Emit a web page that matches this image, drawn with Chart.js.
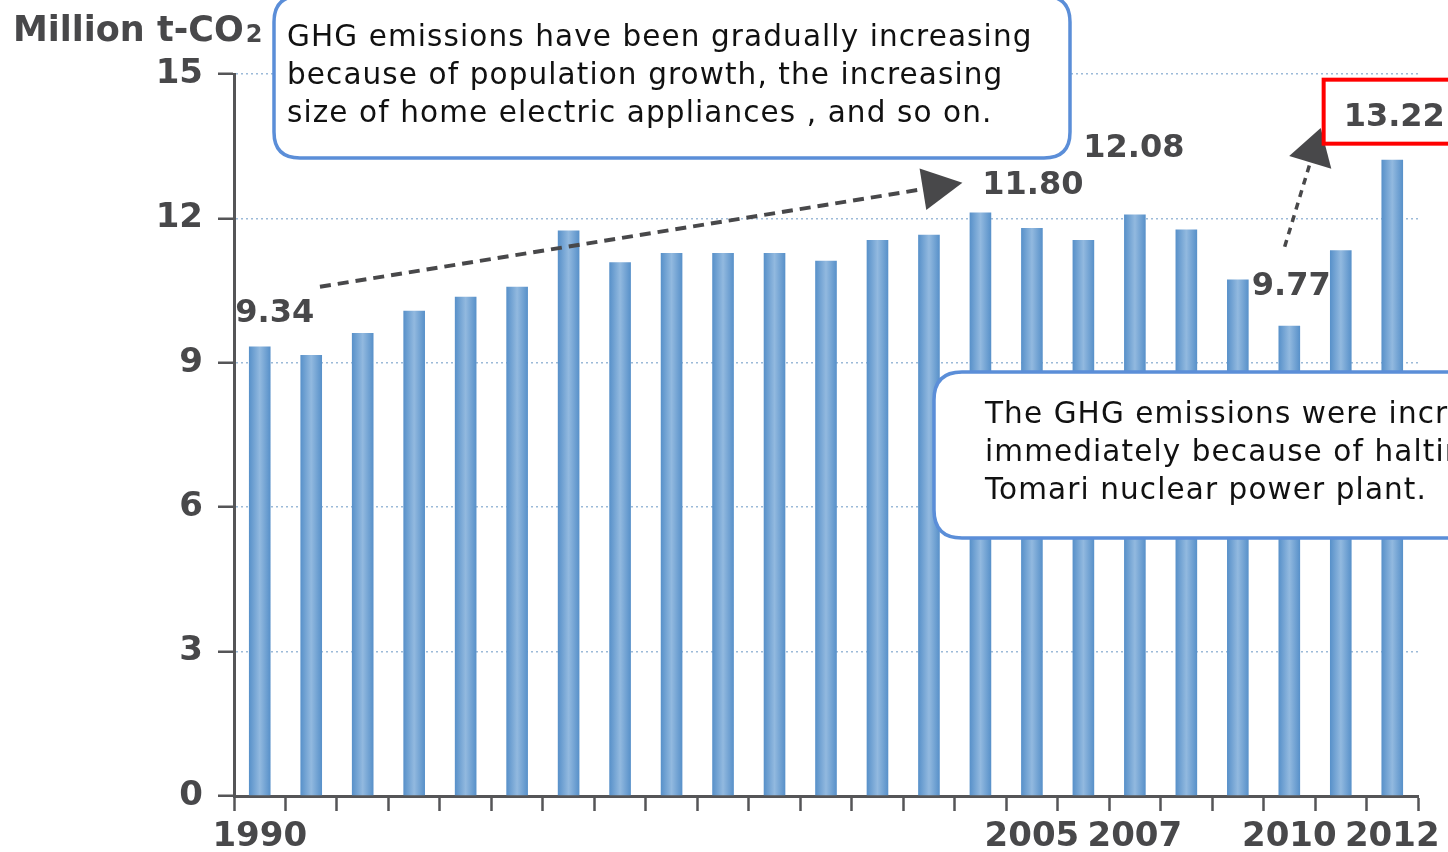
<!DOCTYPE html>
<html lang="en">
<head>
  <meta charset="UTF-8" />
  <title>GHG emissions</title>
  <style>
    html, body {
      margin: 0;
      padding: 0;
      background: #ffffff;
    }
    #wrap {
      width: 1448px;
      height: 852px;
    }
  </style>
  <script src="https://cdn.jsdelivr.net/npm/chart.js@4.4.1/dist/chart.umd.min.js"></script>
</head>
<body>
  <div id="wrap"><canvas id="ghgChart" width="1448" height="852"></canvas></div>

  <script>
    const years = ['1990', '1991', '1992', '1993', '1994', '1995', '1996', '1997',
      '1998', '1999', '2000', '2001', '2002', '2003', '2004', '2005', '2006',
      '2007', '2008', '2009', '2010', '2011', '2012'];
    const emissions = [9.34, 9.16, 9.62, 10.08, 10.37, 10.58, 11.75, 11.09,
      11.28, 11.28, 11.28, 11.12, 11.55, 11.66, 12.12, 11.80, 11.55,
      12.08, 11.77, 10.73, 9.77, 11.34, 13.22];
    const shownYears = ['1990', '2005', '2007', '2010', '2012'];
    const labelledYears = ['1990', '2005', '2007', '2010', '2012'];
    const highlightYear = '2012';
    const yTitle = 'Million t-CO';
    const noteTop = [
      'GHG emissions have been gradually increasing',
      'because of population growth, the increasing',
      'size of home electric appliances , and so on.'
    ];
    const noteBottom = [
      'The GHG emissions were increased',
      'immediately because of halting the',
      'Tomari nuclear power plant.'
    ];

    const INK = '#48484a';
    const AXIS = '#555557';
    const BOX = '#5b8ed8';

    // label nudges (px) relative to bar centre / bar top
    const labelNudge = {
      '1990': [15, 33], '2005': [1, 42], '2007': [-1, 66],
      '2010': [2, 39], '2012': [2, 42]
    };

    function barFill(c) {
      const chart = c.chart;
      const xs = chart.scales && chart.scales.x;
      if (c.type !== 'data' || !xs) return '#6b9fd3';
      const cx = xs.getPixelForValue(c.dataIndex);
      const hw = (xs.getPixelForValue(1) - xs.getPixelForValue(0)) * 0.42 / 2;
      if (!isFinite(cx) || !isFinite(hw) || hw <= 0) return '#6b9fd3';
      const g = chart.ctx.createLinearGradient(cx - hw, 0, cx + hw, 0);
      g.addColorStop(0, '#5790c9');
      g.addColorStop(0.5, '#92b9df');
      g.addColorStop(1, '#5790c9');
      return g;
    }

    function roundBox(ctx, x, y, w, h, r) {
      ctx.beginPath();
      ctx.moveTo(x + r, y);
      ctx.lineTo(x + w - r, y);
      ctx.quadraticCurveTo(x + w, y, x + w, y + r);
      ctx.lineTo(x + w, y + h - r);
      ctx.quadraticCurveTo(x + w, y + h, x + w - r, y + h);
      ctx.lineTo(x + r, y + h);
      ctx.quadraticCurveTo(x, y + h, x, y + h - r);
      ctx.lineTo(x, y + r);
      ctx.quadraticCurveTo(x, y, x + r, y);
      ctx.closePath();
      ctx.fillStyle = '#ffffff';
      ctx.fill();
      ctx.lineWidth = 3.5;
      ctx.strokeStyle = BOX;
      ctx.stroke();
    }

    function arrow(ctx, x1, y1, x2, y2, headLen, headHalf, width, dash) {
      const a = Math.atan2(y2 - y1, x2 - x1);
      const bx = x2 - headLen * Math.cos(a);
      const by = y2 - headLen * Math.sin(a);
      ctx.save();
      ctx.strokeStyle = '#48484a';
      ctx.lineWidth = width;
      ctx.setLineDash(dash);
      ctx.beginPath();
      ctx.moveTo(x1, y1);
      ctx.lineTo(bx, by);
      ctx.stroke();
      ctx.setLineDash([]);
      ctx.fillStyle = '#48484a';
      ctx.beginPath();
      ctx.moveTo(x2, y2);
      ctx.lineTo(bx + headHalf * Math.sin(a), by - headHalf * Math.cos(a));
      ctx.lineTo(bx - headHalf * Math.sin(a), by + headHalf * Math.cos(a));
      ctx.closePath();
      ctx.fill();
      ctx.restore();
    }

    const notesPlugin = {
      id: 'notes',
      afterDraw(chart) {
        const ctx = chart.ctx;
        const xs = chart.scales.x;
        const ys = chart.scales.y;
        const step = xs.getPixelForValue(1) - xs.getPixelForValue(0);
        const px = i => xs.getPixelForValue(0) + i * step;

        ctx.save();

        // axis title
        ctx.fillStyle = INK;
        ctx.textAlign = 'left';
        ctx.textBaseline = 'alphabetic';
        ctx.font = 'bold 35px "DejaVu Sans"';
        ctx.fillText(yTitle, 13, 41);
        const tw = ctx.measureText(yTitle).width;
        ctx.font = 'bold 24px "DejaVu Sans"';
        ctx.fillText('2', 13 + tw + 2, 42);

        // trend arrows (positions in category index / value units)
        arrow(ctx, px(1.17), ys.getPixelForValue(10.58), px(13.65), ys.getPixelForValue(12.74), 40, 21, 4, [11, 7]);
        arrow(ctx, px(19.91), ys.getPixelForValue(11.41), px(20.61), ys.getPixelForValue(13.88), 36, 22, 3.5, [7, 6]);

        // value labels
        ctx.font = 'bold 32px "DejaVu Sans"';
        ctx.textAlign = 'center';
        ctx.textBaseline = 'middle';
        labelledYears.forEach(yr => {
          const i = years.indexOf(yr);
          const v = emissions[i];
          const [dx, dy] = labelNudge[yr];
          const lx = xs.getPixelForValue(i) + dx;
          const ly = ys.getPixelForValue(v) - dy;
          ctx.fillStyle = INK;
          ctx.fillText(v.toFixed(2), lx, ly);
          if (yr === highlightYear) {
            const w = ctx.measureText(v.toFixed(2)).width;
            ctx.strokeStyle = '#ff0000';
            ctx.lineWidth = 4;
            ctx.strokeRect(lx - w / 2 - 20, ly - 38, w + 80, 64);
          }
        });

        // callouts
        ctx.textAlign = 'left';
        ctx.textBaseline = 'middle';
        ctx.font = '29.5px "DejaVu Sans"';
        ctx.letterSpacing = '1.1px';

        roundBox(ctx, 274, -4, 796, 162, 26);
        ctx.fillStyle = '#111111';
        noteTop.forEach((t, k) => ctx.fillText(t, 287, 38 + k * 38));

        roundBox(ctx, 934, 372, 560, 166, 28);
        ctx.fillStyle = '#111111';
        noteBottom.forEach((t, k) => ctx.fillText(t, 985, 415 + k * 38));

        ctx.restore();
      }
    };

    new Chart(document.getElementById('ghgChart'), {
      type: 'bar',
      data: {
        labels: years,
        datasets: [{
          data: emissions,
          backgroundColor: barFill,
          borderWidth: 0,
          barPercentage: 0.42,
          categoryPercentage: 1.0
        }]
      },
      options: {
        responsive: false,
        animation: false,
        devicePixelRatio: 1,
        layout: { padding: { top: 74, right: 30, left: 0, bottom: 0 } },
        plugins: {
          legend: { display: false },
          tooltip: { enabled: false }
        },
        scales: {
          x: {
            offset: true,
            grid: {
              display: true,
              offset: true,
              drawOnChartArea: false,
              drawTicks: true,
              tickLength: 15,
              tickColor: AXIS,
              tickWidth: 2.5
            },
            border: { color: AXIS, width: 3 },
            ticks: {
              autoSkip: false,
              maxRotation: 0,
              padding: 6,
              color: INK,
              font: { family: 'DejaVu Sans', size: 34, weight: 'bold' },
              callback: function (val) {
                const lab = this.getLabelForValue(val);
                return shownYears.includes(lab) ? lab : '';
              }
            },
            afterFit: s => { s.height = 56; }
          },
          y: {
            min: 0,
            max: 15,
            grid: {
              color: '#9cbad8',
              lineWidth: 1.5,
              tickLength: 16,
              tickColor: AXIS,
              tickWidth: 2.5,
              tickBorderDash: []
            },
            border: { color: AXIS, width: 3, dash: [2, 3] },
            ticks: {
              stepSize: 3,
              padding: 15,
              color: INK,
              font: { family: 'DejaVu Sans', size: 34, weight: 'bold' }
            },
            afterFit: s => { s.width = 234; }
          }
        }
      },
      plugins: [notesPlugin]
    });
  </script>
</body>
</html>
